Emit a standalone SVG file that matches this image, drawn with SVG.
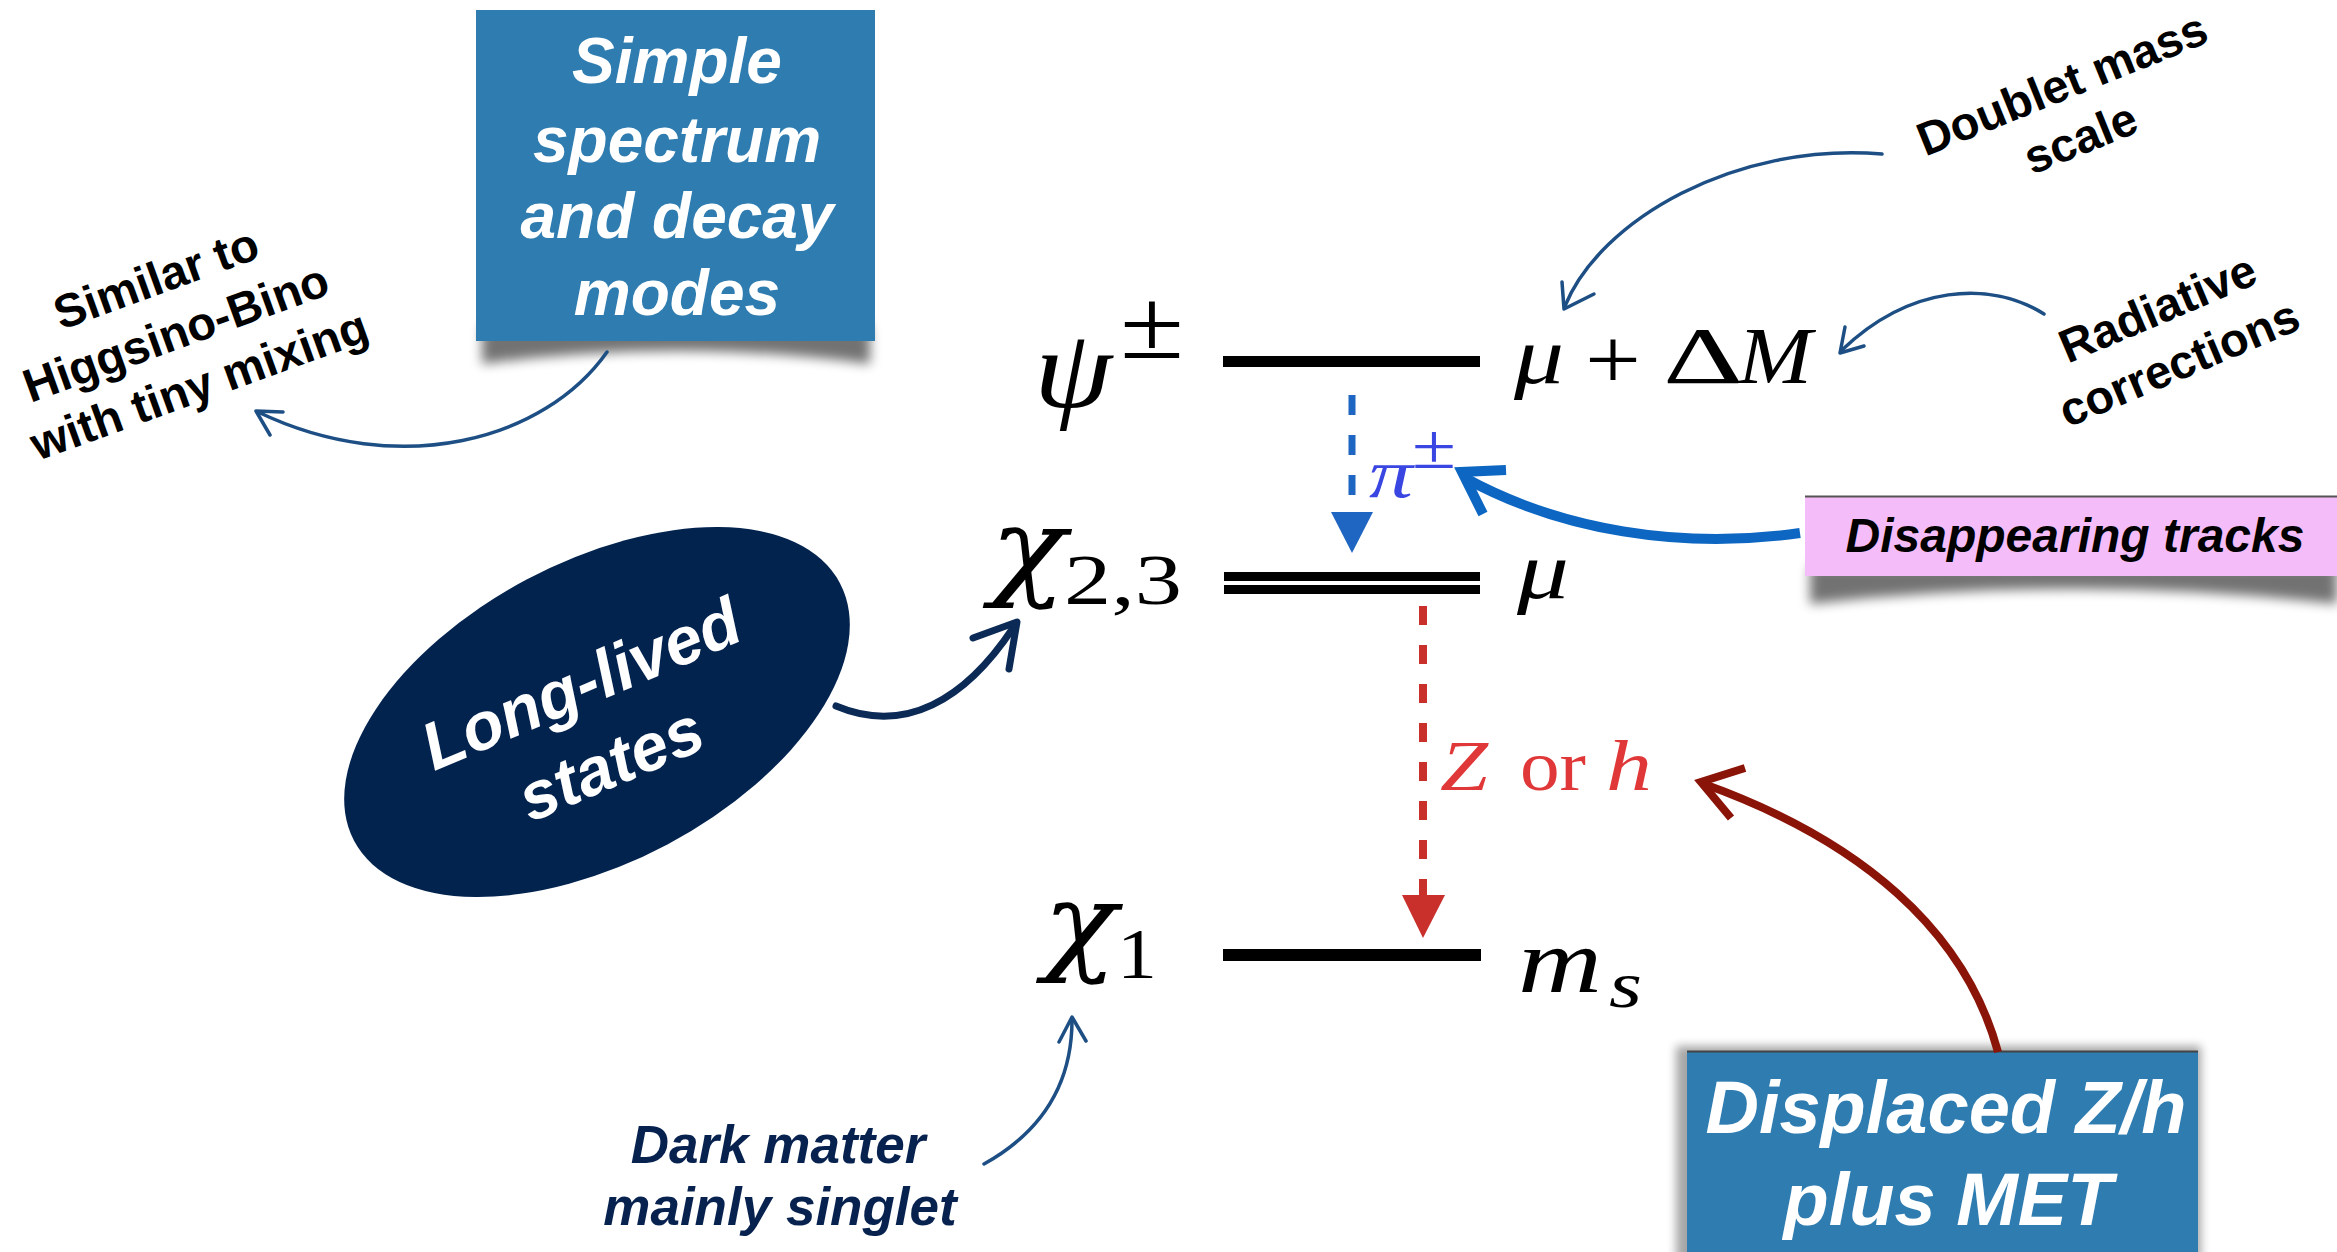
<svg xmlns="http://www.w3.org/2000/svg" width="2337" height="1252" viewBox="0 0 2337 1252">
<defs>
<filter id="blur" x="-20%" y="-50%" width="140%" height="200%"><feGaussianBlur stdDeviation="6"/></filter>
<filter id="blur2" x="-20%" y="-20%" width="140%" height="140%"><feGaussianBlur stdDeviation="5"/></filter>
</defs>
<style>
.sans{font-family:"Liberation Sans",Arial,Helvetica,sans-serif;font-weight:bold}
.it{font-style:italic}
.bw{fill:#ffffff;font-size:64px;text-anchor:middle}
.blk{fill:#000}
.mid{text-anchor:middle}
.math{font-family:"Liberation Serif","Times New Roman",serif;fill:#000}
.chi{font-family:"DejaVu Serif","Liberation Serif",serif;font-style:italic;fill:#000}
.mi{font-style:italic}
.box{fill:#2e7cb0}
.shadow{fill:#000;opacity:0.55;filter:url(#blur)}
.lvl{fill:#000}
.thin{fill:none;stroke:#1d4f85;stroke-width:3.5;stroke-linecap:round;stroke-linejoin:round}
.navy{fill:none;stroke:#0b2a56;stroke-width:7;stroke-linecap:round;stroke-linejoin:round}
.blue{fill:none;stroke:#0c66c2;stroke-width:10;stroke-linecap:butt;stroke-linejoin:miter}
.red{fill:none;stroke:#8b1408;stroke-width:8;stroke-linecap:butt;stroke-linejoin:miter}
.dashb{fill:none;stroke:#1f66c2;stroke-width:7;stroke-dasharray:20 20}
.dashr{fill:none;stroke:#c9302c;stroke-width:8;stroke-dasharray:19 20}
</style>
<rect width="2337" height="1252" fill="#ffffff"/>

<g id="n-simple">
<path class="shadow" d="M482 325 L870 325 L870 364 Q676 338 482 364 Z"/>
<rect class="box" x="476" y="10" width="399" height="331"/>
<g class="sans it bw">
<text x="677" y="83">Simple</text>
<text x="677" y="162">spectrum</text>
<text x="677" y="238">and decay</text>
<text x="677" y="315">modes</text>
</g>
</g>

<g id="n-similar" class="sans blk mid" font-size="47" transform="translate(176 333) rotate(-20)">
<text x="0" y="-42">Similar to</text>
<text x="0" y="16">Higgsino-Bino</text>
<text x="4" y="73">with tiny mixing</text>
</g>

<g id="n-psi">
<rect class="lvl" x="1223" y="356" width="257" height="11"/>
<text class="math mi" x="1034" y="407" font-size="112" textLength="78" lengthAdjust="spacingAndGlyphs">ψ</text>
<text class="math" x="1120" y="358" font-size="100" textLength="64" lengthAdjust="spacingAndGlyphs">±</text>
<text class="math mi" x="1514" y="383" font-size="80" textLength="50" lengthAdjust="spacingAndGlyphs">μ</text>
<text class="math" x="1585" y="389" font-size="86" textLength="56" lengthAdjust="spacingAndGlyphs">+</text>
<text class="math" x="1663" y="383" font-size="80" textLength="80" lengthAdjust="spacingAndGlyphs">Δ</text>
<text class="math mi" x="1738" y="383" font-size="80" textLength="74" lengthAdjust="spacingAndGlyphs">M</text>
</g>

<g id="n-chi23">
<rect class="lvl" x="1224" y="572" width="256" height="9"/>
<rect class="lvl" x="1224" y="585" width="256" height="9"/>
<text class="chi" x="990" y="585" font-size="108" textLength="76" lengthAdjust="spacingAndGlyphs">χ</text>
<text class="math" x="1064" y="604" font-size="72" textLength="118" lengthAdjust="spacingAndGlyphs">2,3</text>
<text class="math mi" x="1517" y="598" font-size="80" textLength="52" lengthAdjust="spacingAndGlyphs">μ</text>
</g>

<g id="n-chi1">
<rect class="lvl" x="1223" y="949" width="258" height="12"/>
<text class="chi" x="1043" y="960" font-size="108" textLength="74" lengthAdjust="spacingAndGlyphs">χ</text>
<text class="math" x="1117" y="978" font-size="72" textLength="40" lengthAdjust="spacingAndGlyphs">1</text>
<text class="math mi" x="1518" y="992" font-size="92" textLength="84" lengthAdjust="spacingAndGlyphs">m</text>
<text class="math mi" x="1609" y="1007" font-size="66" textLength="33" lengthAdjust="spacingAndGlyphs">s</text>
</g>

<g id="n-pi" fill="#3a46e2">
<text x="1369" y="497" font-family="Liberation Serif, serif" font-style="italic" font-size="70" textLength="44" lengthAdjust="spacingAndGlyphs">π</text>
<text x="1412" y="468" font-family="Liberation Serif, serif" font-size="64" textLength="44" lengthAdjust="spacingAndGlyphs">±</text>
</g>

<g id="n-zh" fill="#e03838" font-family="Liberation Serif, serif" font-size="72">
<text x="1440" y="790" font-style="italic" textLength="48" lengthAdjust="spacingAndGlyphs">Z</text>
<text x="1520" y="790" textLength="66" lengthAdjust="spacingAndGlyphs">or</text>
<text x="1606" y="790" font-style="italic" textLength="46" lengthAdjust="spacingAndGlyphs">h</text>
</g>

<g id="n-doublet" class="sans blk mid" font-size="47" transform="translate(2068 99) rotate(-22)">
<text x="0" y="0">Doublet mass</text>
<text x="-3" y="57">scale</text>
</g>

<g id="n-radiative" class="sans blk mid" font-size="47" transform="translate(2164 323) rotate(-23)">
<text x="0" y="0">Radiative</text>
<text x="-2" y="59">corrections</text>
</g>

<g id="n-disappearing">
<path class="shadow" d="M1810 566 L2337 566 L2337 604 Q2075 574 1810 604 Z"/>
<rect x="1805" y="496" width="540" height="80" fill="#f4bdf9"/>
<line x1="1805" y1="496.5" x2="2337" y2="496.5" stroke="#555" stroke-width="2"/>
<text class="sans it blk mid" x="2075" y="552" font-size="48">Disappearing tracks</text>
</g>

<g id="n-longlived">
<ellipse cx="597" cy="712" rx="275" ry="150" transform="rotate(-28 597 712)" fill="#03234f"/>
<g class="sans it mid" fill="#fff" font-size="67" transform="translate(590 705) rotate(-23)">
<text x="0" y="0">Long-lived</text>
<text x="-4" y="85">states</text>
</g>
</g>

<g id="n-darkmatter" class="sans it mid" fill="#07224f" font-size="53">
<text x="778" y="1163">Dark matter</text>
<text x="780" y="1225">mainly singlet</text>
</g>

<g id="n-displaced">
<rect x="1676" y="1046" width="525" height="220" fill="#000" opacity="0.35" filter="url(#blur2)"/>
<rect class="box" x="1687" y="1051" width="511" height="210"/>
<line x1="1687" y1="1051.5" x2="2198" y2="1051.5" stroke="#444" stroke-width="2"/>
<g class="sans it" fill="#fff" font-size="74" text-anchor="middle">
<text x="1946" y="1133">Displaced Z/h</text>
<text x="1948" y="1225">plus MET</text>
</g>
</g>

<g id="connectors">
<path class="thin" d="M607 352 C545 440 400 480 258 412"/>
<path class="thin" d="M270 435 L256 411 L283 412"/>
<path class="thin" d="M1882 154 C1735 142 1600 220 1565 306"/>
<path class="thin" d="M1562 282 L1564 309 L1594 294"/>
<path class="thin" d="M2044 314 C1990 280 1910 285 1842 350"/>
<path class="thin" d="M1845 327 L1840 353 L1864 346"/>
<path class="thin" d="M984 1164 C1045 1130 1072 1080 1072 1020"/>
<path class="thin" d="M1059 1042 L1072 1017 L1086 1041"/>
<path class="navy" d="M836 706 C905 735 965 700 1013 628"/>
<path class="navy" d="M973 638 L1017 622 L1009 669"/>
<path class="blue" d="M1800 533 C1680 550 1560 530 1465 478"/>
<path class="blue" d="M1506 470 L1462 472 L1483 514"/>
<path class="red" d="M1998 1052 C1965 930 1860 840 1704 784"/>
<path class="red" d="M1745 768 L1701 782 L1731 818"/>
<line class="dashb" x1="1352" y1="395" x2="1352" y2="500"/>
<polygon points="1331,512 1373,512 1352,553" fill="#1f66c2"/>
<line class="dashr" x1="1423" y1="606" x2="1423" y2="897"/>
<polygon points="1402,895 1445,895 1423,938" fill="#c9302c"/>
</g>
</svg>
